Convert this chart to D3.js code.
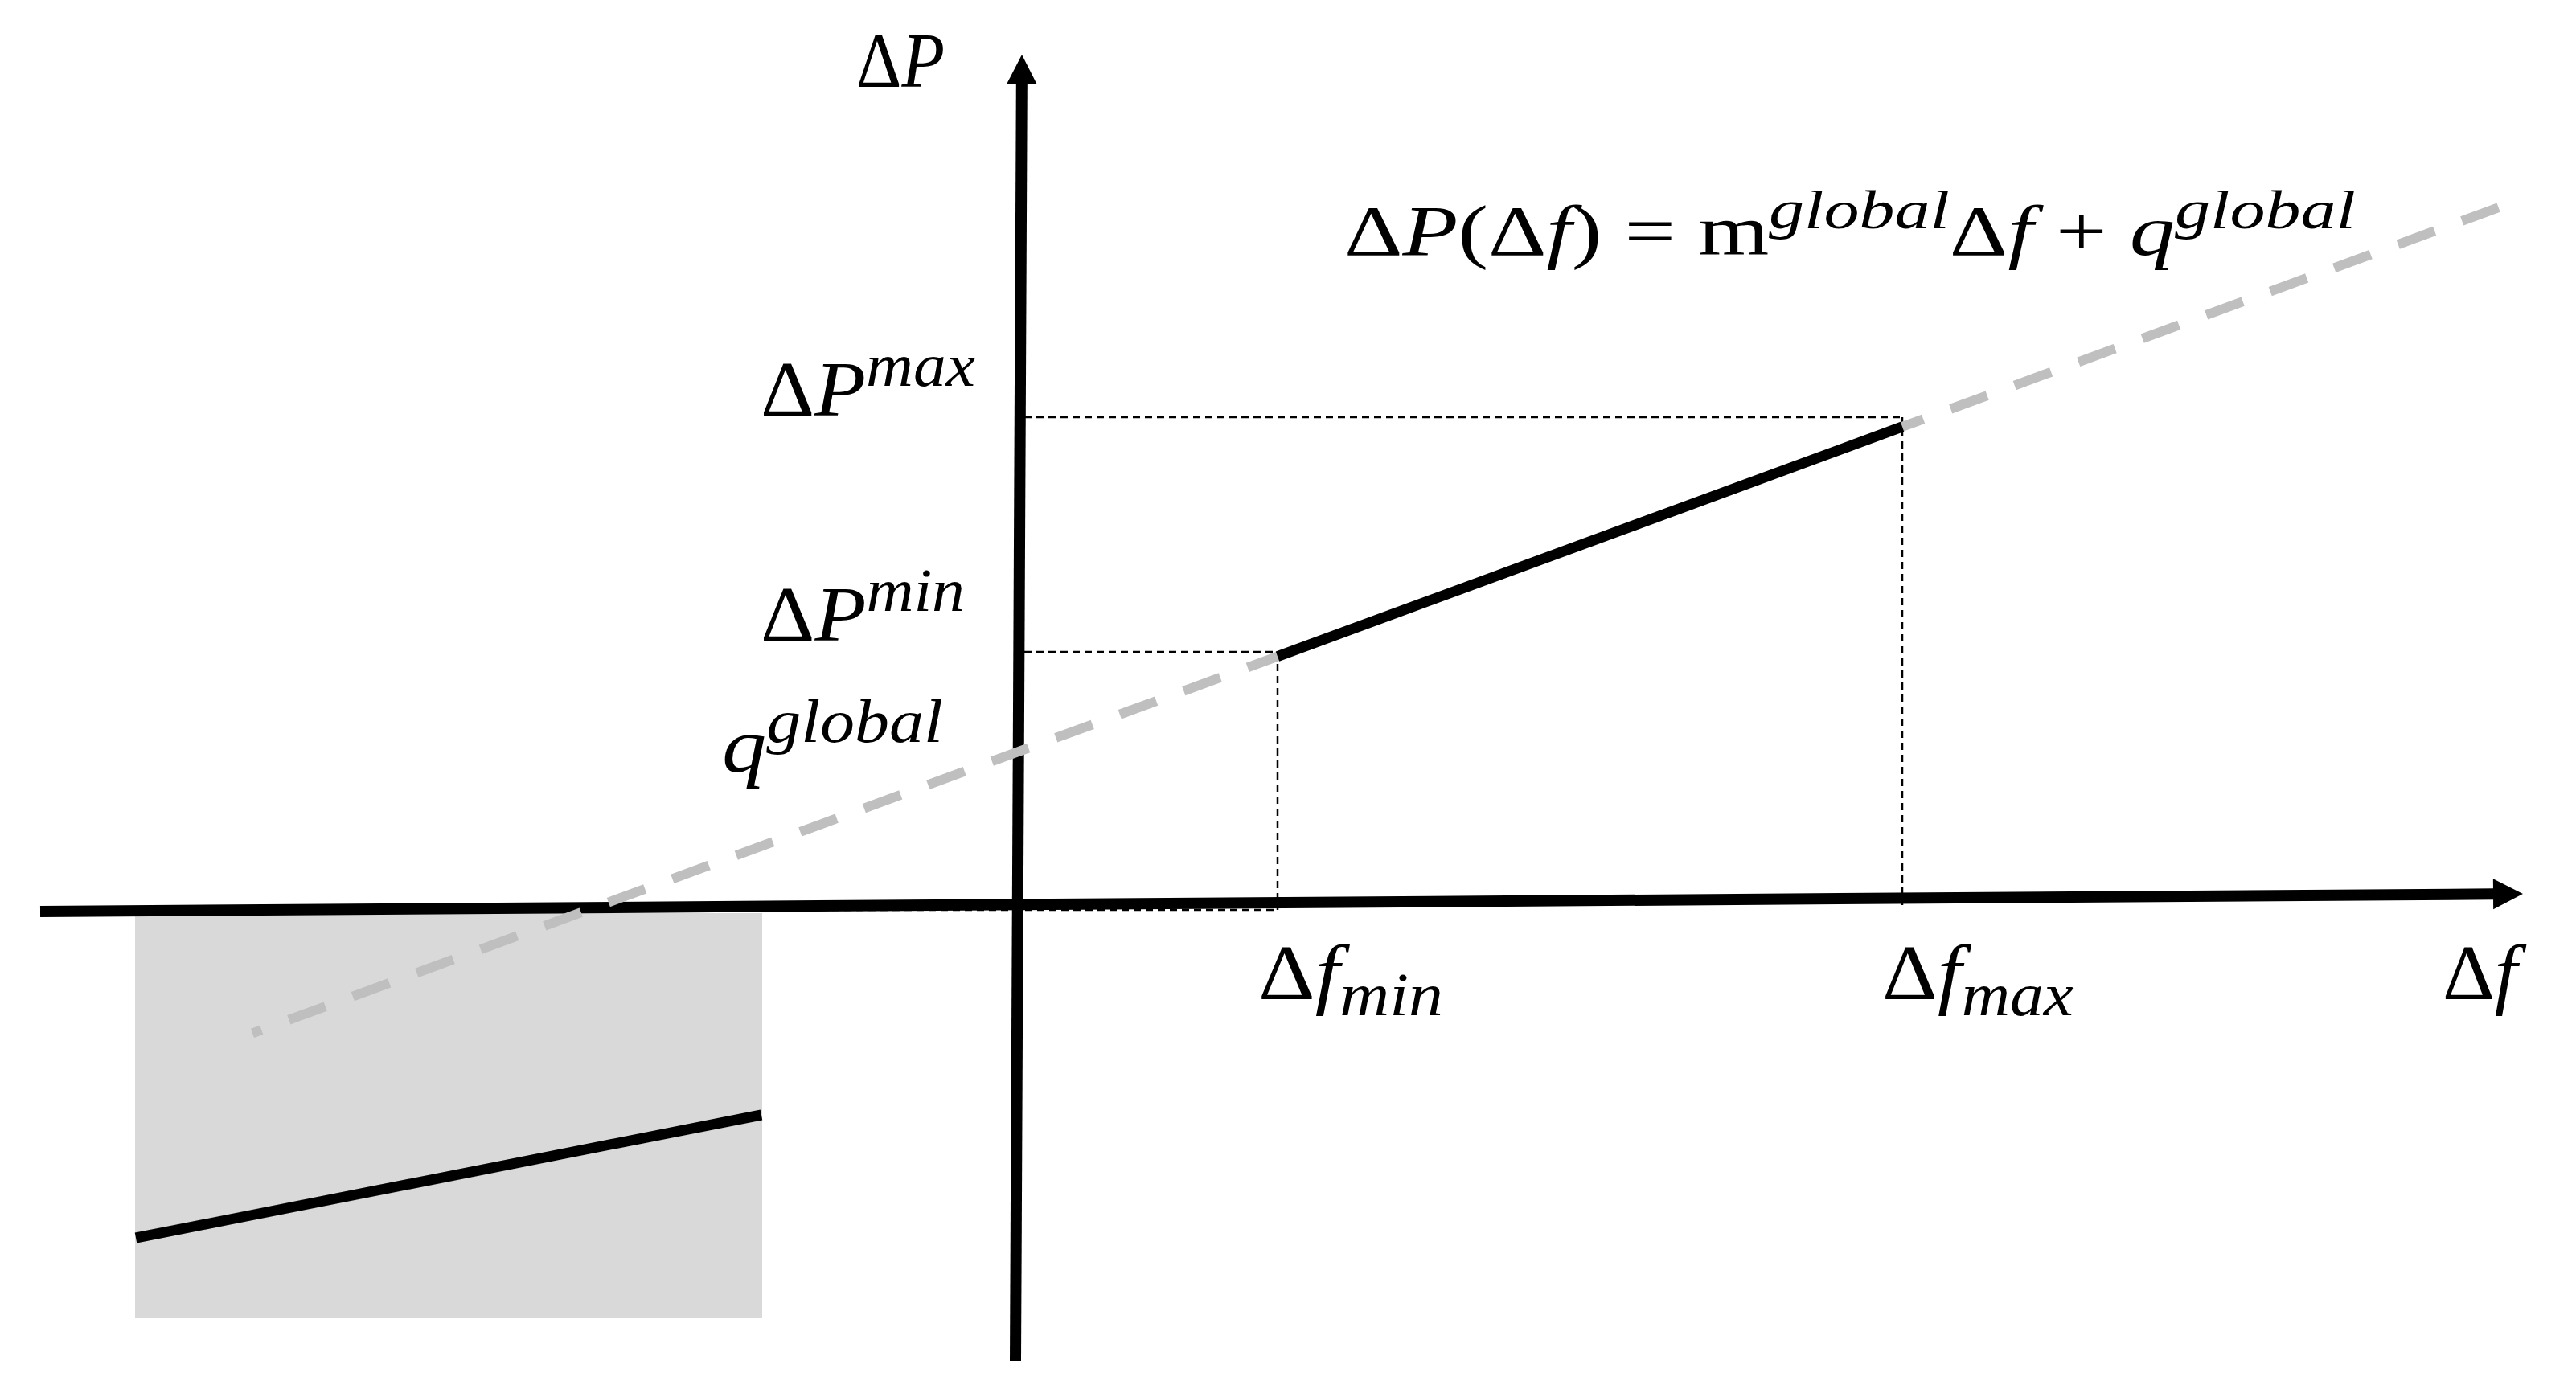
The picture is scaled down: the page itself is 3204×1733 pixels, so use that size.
<!DOCTYPE html>
<html lang="en">
<head>
<meta charset="UTF-8">
<title>Droop characteristic ΔP(Δf)</title>
<script src="https://d3js.org/d3.v7.min.js"></script>
<style>
  body { margin: 0; background: #fff; }
  text { font-family: "Liberation Serif", "Times New Roman", serif; fill: #000; white-space: pre; }
</style>
</head>
<body>
<script>
// chart values, in chart units (Δf horizontally, ΔP vertically)
const axisX = [{ f: -12.17, p: -0.08 }, { f: 18.71, p: 0.14 }];
const axisY = [{ f: -0.04, p: -5.67 }, { f: 0.04, p: 10.58 }];
const dfLimits = [3.22, 10.99];          // Δf_min, Δf_max
const dpLimits = [3.15, 6.07];           // ΔP^min, ΔP^max
const mGlobal = 0.3677;
const qGlobal = 1.91;
const globalRange = [-9.53, 18.44];      // extent of the dashed global line
const boxF = [-10.99, -3.19];
const boxP = [-0.1, -5.14];
const innerLine = [{ f: -10.98, p: -4.14 }, { f: -3.2, p: -2.61 }];

// label texts: [string, n = upright / i = italic, level]
const labelAxisP = [["Δ", "n"], ["P", "i"]];
const labelAxisF = [["Δ", "n"], ["f", "i"]];
const labelPmax = [["Δ", "n"], ["P", "i"], ["max", "i", "sup"]];
const labelPmin = [["Δ", "n"], ["P", "i"], ["min", "i", "sup"]];
const labelQ = [["q", "i"], ["global", "i", "sup"]];
const labelFmin = [["Δ", "n"], ["f", "i"], ["min", "i", "sub"]];
const labelFmax = [["Δ", "n"], ["f", "i"], ["max", "i", "sub"]];
const labelEq = [["Δ", "n"], ["P", "i"], ["(", "n"], ["Δ", "n"], ["f", "i"], [")", "n"], [" = ", "n"], ["m", "n"],
  ["global", "i", "sup"], ["Δ", "n"], ["f", "i"], [" + ", "n"], ["q", "i"], ["global", "i", "sup"]];

const width = 3204;
const height = 1733;

const svg = d3.select("body").append("svg")
    .attr("width", width)
    .attr("height", height);

const x = d3.scaleLinear().domain([-12.67, 19.37]).range([0, width]);
const y = d3.scaleLinear().domain([11.26, -6.07]).range([0, height]);

const line = d3.line().x(d => x(d.f)).y(d => y(d.p));
const globalAt = f => ({ f: f, p: mGlobal * f + qGlobal });

// grey box with the second characteristic
svg.append("rect")
    .attr("x", x(boxF[0]))
    .attr("y", y(boxP[0]))
    .attr("width", x(boxF[1]) - x(boxF[0]))
    .attr("height", y(boxP[1]) - y(boxP[0]))
    .attr("fill", "#d9d9d9");

svg.append("path")
    .attr("d", line(innerLine))
    .attr("stroke", "#000")
    .attr("stroke-width", 13)
    .attr("fill", "none");

// dotted guide lines
const guides = [
  [{ f: 0.07, p: dpLimits[1] }, { f: dfLimits[1], p: dpLimits[1] }],
  [{ f: 0.07, p: dpLimits[0] }, { f: dfLimits[0], p: dpLimits[0] }],
  [{ f: dfLimits[0], p: dpLimits[0] }, { f: dfLimits[0], p: -0.06 }],
  [{ f: dfLimits[1], p: dpLimits[1] }, { f: dfLimits[1], p: 0 }],
  [{ f: boxF[1] + 0.12, p: -0.06 }, { f: dfLimits[0], p: -0.06 }]
];
svg.selectAll(".guide")
  .data(guides)
  .enter().append("path")
    .attr("class", "guide")
    .attr("d", line)
    .attr("stroke", "#000")
    .attr("stroke-width", 2.5)
    .attr("stroke-dasharray", "9,6")
    .attr("fill", "none");

// axes with arrow heads
function arrow(pts, w) {
  const a = [x(pts[0].f), y(pts[0].p)];
  const b = [x(pts[1].f), y(pts[1].p)];
  const len = Math.hypot(b[0] - a[0], b[1] - a[1]);
  const u = [(b[0] - a[0]) / len, (b[1] - a[1]) / len];
  const n = [-u[1], u[0]];
  const head = 37, half = 19;
  const base = [b[0] - u[0] * head, b[1] - u[1] * head];
  svg.append("line")
      .attr("x1", a[0]).attr("y1", a[1])
      .attr("x2", base[0] + u[0]).attr("y2", base[1] + u[1])
      .attr("stroke", "#000")
      .attr("stroke-width", w);
  svg.append("path")
      .attr("d", "M" + b + "L" + [base[0] + n[0] * half, base[1] + n[1] * half] +
                 "L" + [base[0] - n[0] * half, base[1] - n[1] * half] + "Z")
      .attr("fill", "#000");
}
arrow(axisX, 14);
arrow(axisY, 14);

// global characteristic (dashed) and the active segment
svg.append("path")
    .attr("d", line(globalRange.map(globalAt)))
    .attr("stroke", "#bfbfbf")
    .attr("stroke-width", 12)
    .attr("stroke-dasharray", "48.4,36.3")
    .attr("stroke-dashoffset", 36.4)
    .attr("fill", "none");

svg.append("path")
    .attr("d", line(dfLimits.map(globalAt)))
    .attr("stroke", "#000")
    .attr("stroke-width", 13)
    .attr("fill", "none");

// labels
function drawLabel(parts, left, base, w, size) {
  const t = svg.append("text")
      .attr("x", 0)
      .attr("y", base)
      .style("font-size", size + "px");
  let shift = 0;
  parts.forEach(([str, kind, lvl]) => {
    const target = lvl === "sup" ? -0.38 * size : lvl === "sub" ? 0.2 * size : 0;
    t.append("tspan")
        .attr("dy", target - shift)
        .style("font-size", (lvl ? 0.78 * size : size) + "px")
        .style("font-style", kind === "i" ? "italic" : "normal")
        .text(str);
    shift = target;
  });
  const bb = t.node().getBBox();
  t.attr("transform", "translate(" + left + ",0) scale(" + (w / bb.width) + ",1) translate(" + (-bb.x) + ",0)");
}

drawLabel(labelAxisP, x(0) - 202, 108, 110, 98);
drawLabel(labelPmax, x(0) - 321, y(dpLimits[1]) - 2, 267, 98);
drawLabel(labelPmin, x(0) - 321, y(dpLimits[0]) - 14, 254, 98);
drawLabel(labelQ, x(0) - 369, y(qGlobal) + 25, 275, 98);
drawLabel(labelEq, x(4.05), 317, 1258, 88);
drawLabel(labelFmin, x(dfLimits[0]) - 24, y(0) + 117, 230, 98);
drawLabel(labelFmax, x(dfLimits[1]) - 25, y(0) + 117, 238, 98);
drawLabel(labelAxisF, x(17.71), y(0) + 117, 105, 98);
</script>
</body>
</html>
